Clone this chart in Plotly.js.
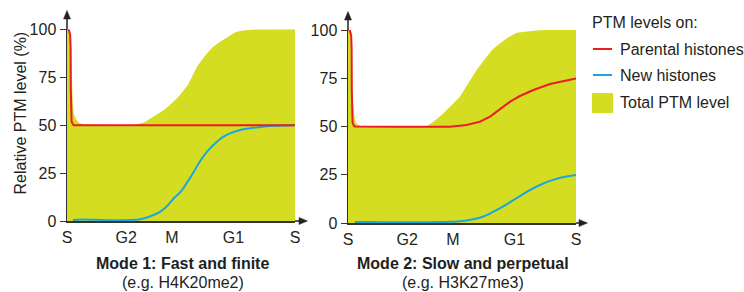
<!DOCTYPE html>
<html>
<head>
<meta charset="utf-8">
<script src="https://cdn.plot.ly/plotly-3.0.1.min.js"></script>
<style>html,body{margin:0;padding:0;background:#fff;}#chart{width:744px;height:292px;}</style>
</head>
<body>
<div id="chart"></div>
<script>
// ---- Data (x = position in the cell cycle, 0 = S ... 100 = next S) ----
var phaseTicks = [0, 26, 46, 73, 100];
var phaseLabels = ['S', 'G2', 'M', 'G1', 'S'];
var yTicks = [0, 25, 50, 75, 100];

// Mode 1: Fast and finite
var m1TotalX = [0, 1, 1.6, 2, 2.5, 3, 4, 5, 6, 8, 20, 29, 34, 38, 42, 45, 49, 53, 57, 61, 64, 67, 71, 74, 78, 82, 90, 100];
var m1TotalY = [100, 100, 97, 80, 62, 56, 53, 51.5, 50.8, 50.3, 50, 50, 51.5, 54.3, 57.5, 60.4, 65, 71, 80.4, 87, 90.8, 93.4, 96.5, 98.6, 99.5, 99.9, 100, 100];
var m1ParentX = [0.3, 0.9, 1.4, 1.6, 1.65, 1.7, 2.0, 2.5, 3.0, 100];
var m1ParentY = [100, 99.5, 97, 90, 70, 55, 52, 50.6, 50, 50];
var m1NewX = [2.6, 5, 10, 15, 20, 25, 28, 32, 36, 40.8, 44, 47, 50, 54, 58.3, 61, 64.2, 68, 71.5, 76, 81.7, 89, 100];
var m1NewY = [0.5, 0.7, 0.7, 0.5, 0.4, 0.4, 0.5, 0.9, 2.2, 4.8, 8, 12, 15.5, 22.5, 31, 35.5, 39.6, 43.5, 45.7, 47.5, 48.6, 49.6, 50];

// Mode 2: Slow and perpetual
var m2TotalX = [0, 0.8, 1.3, 1.7, 2.2, 2.8, 3.5, 4.5, 6, 10, 20, 30, 34.5, 38, 41.8, 45.5, 49.1, 52, 56.4, 60.8, 63.5, 66.7, 70, 74, 78, 81.3, 90, 100];
var m2TotalY = [100, 100, 97, 80, 62, 55, 52, 50.8, 50.3, 50, 49.8, 49.8, 50, 53, 56.8, 61, 65.4, 71, 79.3, 86.2, 90, 93.1, 96, 98.6, 99.3, 99.6, 100.3, 101];
var m2ParentX = [0.3, 0.9, 1.4, 1.6, 1.65, 1.7, 2.0, 2.5, 3.0, 20, 35, 44.7, 52, 57.9, 62.3, 66.7, 71.1, 75.4, 81.3, 88.6, 95.9, 100];
var m2ParentY = [100, 99.5, 97, 90, 70, 55, 52, 50.6, 50, 49.9, 49.8, 49.9, 50.8, 52.5, 55.1, 58.9, 62.9, 65.8, 68.9, 72, 74.1, 74.9];
var m2NewX = [3, 10, 20, 30, 40, 44.7, 48, 52, 55.5, 59.4, 63, 66.7, 70.5, 74, 77.5, 81.3, 85, 88.6, 92, 95.9, 100];
var m2NewY = [0.5, 0.5, 0.4, 0.4, 0.5, 0.6, 0.8, 1.3, 2.1, 3.4, 5.4, 7.7, 10.3, 12.9, 15.5, 18, 20.1, 21.8, 23.1, 24.1, 24.9];

// ---- Styling ----
var W = 744, H = 292;
var FONT = 'Liberation Sans, Arial, sans-serif';
var FS = 16;
var TXT = '#231f20';
var GREEN = '#d5dd23', RED = '#ec1c24', BLUE = '#1ba6df';
function px(x) { return x / W; }
function py(y) { return 1 - y / H; }

function fillTrace(x, y, xa, ya) {
  return {x: x, y: y, xaxis: xa, yaxis: ya, type: 'scatter', mode: 'lines', fill: 'tozeroy',
          fillcolor: GREEN, line: {width: 0, color: GREEN}, hoverinfo: 'skip', showlegend: false};
}
function lineTrace(x, y, c, xa, ya, shape) {
  return {x: x, y: y, xaxis: xa, yaxis: ya, type: 'scatter', mode: 'lines',
          line: {width: 2, color: c, shape: shape || 'linear', smoothing: 0.6}, hoverinfo: 'skip', showlegend: false};
}

var data = [
  fillTrace(m1TotalX, m1TotalY, 'x', 'y'),
  lineTrace(m1NewX, m1NewY, BLUE, 'x', 'y', 'spline'),
  lineTrace(m1ParentX, m1ParentY, RED, 'x', 'y'),
  fillTrace(m2TotalX, m2TotalY, 'x2', 'y2'),
  lineTrace(m2NewX, m2NewY, BLUE, 'x2', 'y2', 'spline'),
  lineTrace(m2ParentX, m2ParentY, RED, 'x2', 'y2')
];

function xAxis(d0, d1, anchor) {
  return {domain: [px(d0), px(d1)], range: [0, 100], anchor: anchor, showline: true, linecolor: '#333',
          linewidth: 1.5, ticks: '', tickvals: phaseTicks, ticktext: phaseLabels, showgrid: false,
          zeroline: false, fixedrange: true, ticklabelstandoff: 1,
          tickfont: {family: FONT, size: FS, color: TXT}};
}
function yAxis(b, t, anchor) {
  return {domain: [py(b), py(t)], range: [0, 100], anchor: anchor, showline: true, linecolor: '#333',
          linewidth: 1.5, ticks: 'outside', ticklen: 6, tickwidth: 1, tickcolor: '#333', tickvals: yTicks,
          showgrid: false, zeroline: false, fixedrange: true,
          tickfont: {family: FONT, size: FS, color: TXT}};
}
function rightAxis(over, anchor) {
  return {overlaying: over, side: 'right', anchor: anchor, range: [0, 100], showline: true,
          linecolor: '#9a9a9a', linewidth: 1.2, ticks: 'outside', ticklen: 4, tickcolor: '#9a9a9a',
          tickvals: yTicks, showticklabels: false, showgrid: false, zeroline: false, fixedrange: true};
}

function seg(x0, y0, x1, y1, c, w) {
  return {type: 'line', xref: 'paper', yref: 'paper', x0: px(x0), y0: py(y0), x1: px(x1), y1: py(y1),
          line: {color: c, width: w}};
}
function tri(pts, c) {
  var d = pts.map(function (p, i) { return (i ? 'L' : 'M') + px(p[0]) + ',' + py(p[1]); }).join(' ') + ' Z';
  return {type: 'path', xref: 'paper', yref: 'paper', path: d, fillcolor: c, line: {color: c, width: 0.5}};
}

var shapes = [
  // chart 1 arrows
  seg(67, 29.3, 67, 17, '#222', 1.5), tri([[63.5, 19], [70.5, 19], [67, 10.5]], '#222'),
  seg(295, 221, 301, 221, '#222', 1.5), tri([[299, 217.5], [299, 224.5], [307.5, 221]], '#222'),
  // chart 2 arrows
  seg(348, 30, 348, 18, '#222', 1.5), tri([[344.5, 20], [351.5, 20], [348, 11.5]], '#222'),
  seg(576, 223, 581, 223, '#222', 1.5), tri([[579, 219.5], [579, 226.5], [587.5, 223]], '#222'),
  // legend symbols
  seg(593, 49, 612, 49, RED, 2),
  seg(593, 75, 612, 75, BLUE, 2),
  {type: 'rect', xref: 'paper', yref: 'paper', x0: px(592), x1: px(613), y0: py(113), y1: py(93),
   fillcolor: GREEN, line: {width: 0}}
];

function txt(t, x, y, opts) {
  var a = {text: t, xref: 'paper', yref: 'paper', x: px(x), y: py(y), showarrow: false,
           xanchor: 'center', yanchor: 'middle', font: {family: FONT, size: FS, color: TXT}};
  for (var k in opts) a[k] = opts[k];
  return a;
}

var annotations = [
  txt('Relative PTM level (%)', 20, 113.5, {textangle: -90}),
  txt('<b>Mode 1: Fast and finite</b>', 182.5, 263.5, {}),
  txt('(e.g. H4K20me2)', 182.5, 282, {}),
  txt('<b>Mode 2: Slow and perpetual</b>', 463, 263.5, {}),
  txt('(e.g. H3K27me3)', 463, 282, {}),
  txt('PTM levels on:', 590, 23, {xanchor: 'left'}),
  txt('Parental histones', 618, 49, {xanchor: 'left'}),
  txt('New histones', 618, 75, {xanchor: 'left'}),
  txt('Total PTM level', 618, 103, {xanchor: 'left'})
];

var layout = {
  width: W, height: H, margin: {l: 0, r: 0, t: 0, b: 0},
  paper_bgcolor: '#fff', plot_bgcolor: 'rgba(0,0,0,0)', showlegend: false,
  font: {family: FONT, size: FS, color: TXT},
  xaxis: xAxis(67, 295, 'y'),
  yaxis: yAxis(221, 29.3, 'x'),
  yaxis3: rightAxis('y', 'x'),
  xaxis2: xAxis(348, 576, 'y2'),
  yaxis2: yAxis(223, 30, 'x2'),
  yaxis4: rightAxis('y2', 'x2'),
  shapes: shapes,
  annotations: annotations
};

Plotly.newPlot('chart', data, layout, {displayModeBar: false, staticPlot: true});
</script>
</body>
</html>
